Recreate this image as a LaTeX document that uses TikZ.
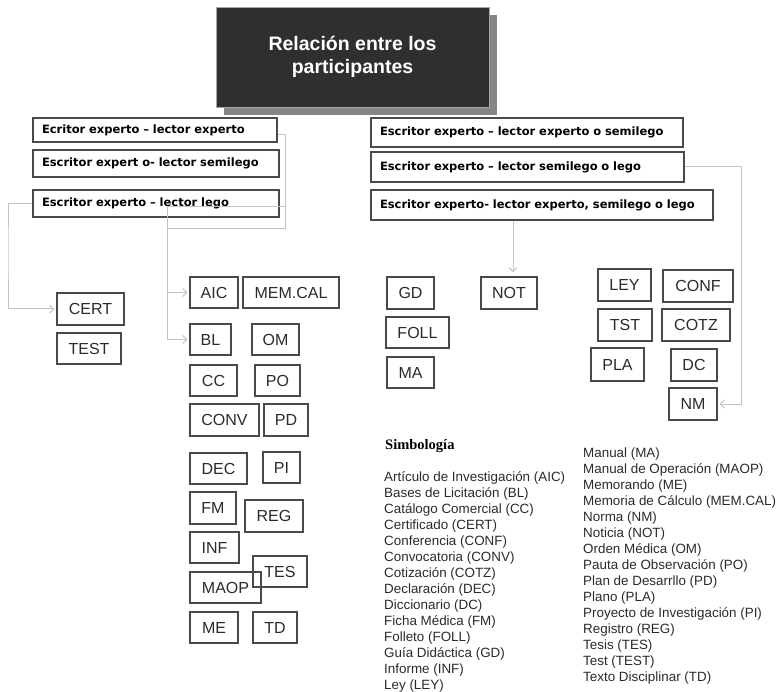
\documentclass[tikz,border=0pt]{standalone}
\usepackage{fontspec}
\setmainfont{Liberation Sans}
\newfontfamily\hdfont{DejaVu Sans}
\newfontfamily\serifb{Liberation Serif}
\usetikzlibrary{arrows.meta}
\definecolor{boxline}{HTML}{4A4A4A}
\definecolor{conncol}{HTML}{C4C4C4}
\definecolor{titlefill}{HTML}{2F2F2F}
\definecolor{shadowc}{HTML}{858585}
\definecolor{txt}{HTML}{2A2A2A}
\begin{document}
\begin{tikzpicture}[x=1pt,y=-1pt,
 abox/.style={draw=boxline, line width=1.2pt, inner sep=0pt, font=\fontsize{16}{18}\selectfont, text=txt},
 hbox/.style={draw=boxline, line width=1.2pt, inner xsep=9pt, inner ysep=0pt, font=\hdfont\bfseries\fontsize{11.5}{13}\selectfont, text=black, align=left},
 conn/.style={draw=conncol, line width=1pt},
 arr/.style={conn, shorten >=2pt, -{Straight Barb[length=4pt,width=8pt]}},
 leg/.style={anchor=base west, inner sep=0pt, font=\fontsize{13.4}{15}\selectfont, text=txt}]
\useasboundingbox (0,0) rectangle (781,692);
% title
\fill[shadowc] (224,15) rectangle (497,115);
\node[fill=titlefill, draw=gray!70, line width=0.6pt, minimum width=273pt, minimum height=100pt, text=white, font=\bfseries\fontsize{19.5}{22.5}\selectfont, align=center] (title) at (352.5,57) {Relación entre los\\participantes};
% left headers
\node[hbox, text width=226pt, minimum height=24pt] (H1) at (155,130) {Ecritor experto – lector experto};
\node[hbox, text width=228pt, minimum height=27pt] (H2) at (156,163.5) {Escritor expert o- lector semilego};
\node[hbox, text width=228pt, minimum height=27pt] (H3) at (156,203.5) {Escritor experto – lector lego};
% right headers
\node[hbox, text width=294pt, minimum height=29pt] (R1) at (527,132.5) {Escritor experto – lector experto o semilego};
\node[hbox, text width=295pt, minimum height=30pt] (R2) at (527.5,167) {Escritor experto – lector semilego o lego};
\node[hbox, text width=324pt, minimum height=30pt] (R3) at (542,205) {Escritor experto- lector experto, semilego o lego};
% small boxes
\node[abox, minimum width=67pt, minimum height=32pt] (CERT) at (90.5,309) {CERT};
\node[abox, minimum width=64pt, minimum height=31pt] (TEST) at (89,348.5) {TEST};
\node[abox, minimum width=48pt, minimum height=31pt] (AIC) at (214,292.5) {AIC};
\node[abox, minimum width=96pt, minimum height=31pt] (MEMCAL) at (291,292.5) {MEM.CAL};
\node[abox, minimum width=41pt, minimum height=31pt] (BL) at (210.5,339.5) {BL};
\node[abox, minimum width=47pt, minimum height=31pt] (OM) at (275.5,339.5) {OM};
\node[abox, minimum width=47pt, minimum height=31pt] (CC) at (213.5,380.5) {CC};
\node[abox, minimum width=45pt, minimum height=31pt] (PO) at (277.5,380.5) {PO};
\node[abox, minimum width=69pt, minimum height=32pt] (CONV) at (224.5,420) {CONV};
\node[abox, minimum width=44pt, minimum height=32pt] (PD) at (286,420) {PD};
\node[abox, minimum width=57pt, minimum height=31pt] (DEC) at (218.5,468.5) {DEC};
\node[abox, minimum width=37pt, minimum height=31pt] (PI) at (281.5,467.5) {PI};
\node[abox, minimum width=46pt, minimum height=32pt] (FM) at (213,508) {FM};
\node[abox, minimum width=58pt, minimum height=32pt] (REG) at (274,516) {REG};
\node[abox, minimum width=49pt, minimum height=31pt] (INF) at (214.5,547.5) {INF};
\node[abox, minimum width=54pt, minimum height=31pt] (TES) at (280,571.5) {TES};
\node[abox, minimum width=71pt, minimum height=31pt] (MAOP) at (225.5,587.5) {MAOP};
\node[abox, minimum width=48pt, minimum height=31pt] (ME) at (214,627.5) {ME};
\node[abox, minimum width=44pt, minimum height=31pt] (TD) at (275,627.5) {TD};
\node[abox, minimum width=47pt, minimum height=32pt] (GD) at (410.5,293) {GD};
\node[abox, minimum width=63pt, minimum height=31pt] (FOLL) at (417.5,332.5) {FOLL};
\node[abox, minimum width=47pt, minimum height=31pt] (MA) at (410.5,372.5) {MA};
\node[abox, minimum width=56pt, minimum height=32pt] (NOT) at (509,293) {NOT};
\node[abox, minimum width=53pt, minimum height=32pt] (LEY) at (624.5,285) {LEY};
\node[abox, minimum width=70pt, minimum height=32pt] (CONF) at (698,286) {CONF};
\node[abox, minimum width=54pt, minimum height=32pt] (TST) at (625,325) {TST};
\node[abox, minimum width=68pt, minimum height=32pt] (COTZ) at (696,325) {COTZ};
\node[abox, minimum width=53pt, minimum height=33pt] (PLA) at (617.5,364.5) {PLA};
\node[abox, minimum width=46pt, minimum height=32pt] (DC) at (694,365) {DC};
\node[abox, minimum width=48pt, minimum height=32pt] (NM) at (693,404) {NM};
% connectors
\coordinate (jA) at (285,229);
\coordinate (jB) at (167,229);
\coordinate (jC) at (167,207);
\coordinate (jD) at (285,207);
\draw[conn] ([yshift=-5pt]H1.east) -| (jA) -- (jB);
\draw[conn] (jC) -- (jD);
\draw[arr] (jC) |- (BL.west);
\draw[arr] (jC |- AIC.west) -- (AIC.west);
\coordinate (jE) at (8,250);
\draw[arr] (H3.west) -| (jE) |- (CERT.west);
\coordinate (jF) at (513,220);
\draw[arr, shorten >=4pt] (R3.south -| jF) -- (jF |- NOT.north);
\coordinate (jG) at (741,300);
\draw[arr] (R2.east) -| (jG) |- (NM.east);
% legend
\node[anchor=base west, inner sep=0pt, font=\serifb\bfseries\fontsize{14.5}{16}\selectfont] (simb) at (385,449) {Simbología};
\foreach \t [count=\i] in {Artículo de Investigación (AIC), Bases de Licitación (BL), Catálogo Comercial (CC), Certificado (CERT), Conferencia (CONF), Convocatoria (CONV), Cotización (COTZ), Declaración (DEC), Diccionario (DC), Ficha Médica (FM), Folleto (FOLL), Guía Didáctica (GD), Informe (INF), Ley (LEY)}
  {\node[leg] (la\i) at (384,{481+16*(\i-1)}) {\t};}
\foreach \t [count=\i] in {Manual (MA), Manual de Operación (MAOP), Memorando (ME), Memoria de Cálculo (MEM.CAL), Norma (NM), Noticia (NOT), Orden Médica (OM), Pauta de Observación (PO), Plan de Desarrllo (PD), Plano (PLA), Proyecto de Investigación (PI), Registro (REG), Tesis (TES), Test (TEST), Texto Disciplinar (TD)}
  {\node[leg] (lb\i) at (583,{457.5+16*(\i-1)}) {\t};}
\end{tikzpicture}
\end{document}
